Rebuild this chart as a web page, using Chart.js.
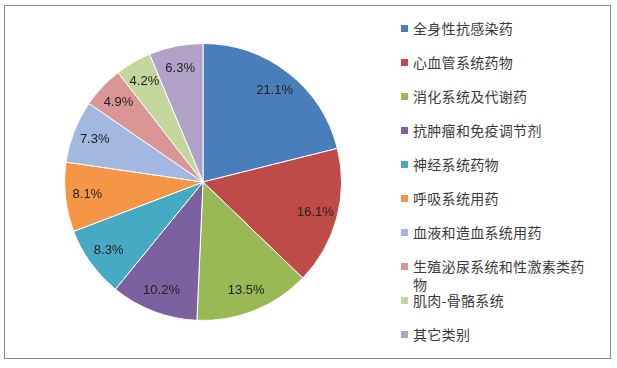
<!DOCTYPE html>
<html>
<head>
<meta charset="utf-8">
<script src="https://cdn.jsdelivr.net/npm/chart.js@4"></script>
<style>
    html, body { margin: 0; padding: 0; background: #fff; }
    body { width: 617px; height: 368px; position: relative; overflow: hidden; }
    .frame {
        position: absolute; left: 4px; top: 5px; width: 605px; height: 352px;
        border: 1.5px solid #8a8a8a;
    }
    #pie-wrap { position: absolute; left: 53px; top: 32px; width: 300px; height: 300px; }
    #legend {
        position: absolute; left: 401px; top: 11px; margin: 0; padding: 0; list-style: none;
        font-family: "Noto Sans CJK SC", sans-serif; font-size: 14px; color: #3a3a3a;
    }
    #legend li { height: 34px; position: relative; }
    #legend .box { position: absolute; left: 0; top: 14px; width: 7px; height: 7px; }
    #legend .txt {
        position: absolute; left: 12px; top: 8px; width: 178px;
        line-height: 18px; letter-spacing: 0.3px;
    }
</style>
</head>
<body>
<div class="frame"></div>
<div id="pie-wrap"><canvas id="pie"></canvas></div>
<ul id="legend"></ul>
<script>
// Share of drug categories (%)
const categories = [
    '全身性抗感染药', '心血管系统药物', '消化系统及代谢药', '抗肿瘤和免疫调节剂', '神经系统药物',
    '呼吸系统用药', '血液和造血系统用药', '生殖泌尿系统和性激素类药物', '肌肉-骨骼系统', '其它类别'
];
const shares = [21.1, 16.1, 13.5, 10.2, 8.3, 8.1, 7.3, 4.9, 4.2, 6.3];
const colors = [
    '#4a7ebb', '#be4b48', '#98b954', '#7d60a0', '#46aac5',
    '#f59646', '#a3b8e0', '#da9694', '#c3d69b', '#b0a2c8'
];

// percent labels inside each slice
const sliceLabels = {
    id: 'sliceLabels',
    afterDatasetsDraw(chart) {
        const ctx = chart.ctx;
        const meta = chart.getDatasetMeta(0);
        ctx.save();
        ctx.font = '13px "Liberation Sans", Arial, sans-serif';
        ctx.fillStyle = '#222';
        ctx.textAlign = 'center';
        ctx.textBaseline = 'middle';
        meta.data.forEach((arc, i) => {
            const mid = (arc.startAngle + arc.endAngle) / 2;
            const r = arc.outerRadius * 0.84;
            const x = arc.x + Math.cos(mid) * r;
            const y = arc.y + Math.sin(mid) * r;
            ctx.fillText(shares[i].toFixed(1) + '%', x, y);
        });
        ctx.restore();
    }
};

new Chart(document.getElementById('pie'), {
    type: 'pie',
    data: {
        labels: categories,
        datasets: [{
            data: shares,
            backgroundColor: colors,
            borderColor: '#ffffff',
            borderWidth: 1
        }]
    },
    options: {
        responsive: true,
        maintainAspectRatio: false,
        animation: false,
        layout: { padding: 11 },
        plugins: {
            legend: { display: false },
            tooltip: { enabled: false }
        }
    },
    plugins: [sliceLabels]
});

// legend in the right column
const legend = document.getElementById('legend');
categories.forEach((name, i) => {
    const li = document.createElement('li');
    li.innerHTML = `<span class="box" style="background:${colors[i]}"></span><span class="txt">${name}</span>`;
    legend.appendChild(li);
});
</script>
</body>
</html>
